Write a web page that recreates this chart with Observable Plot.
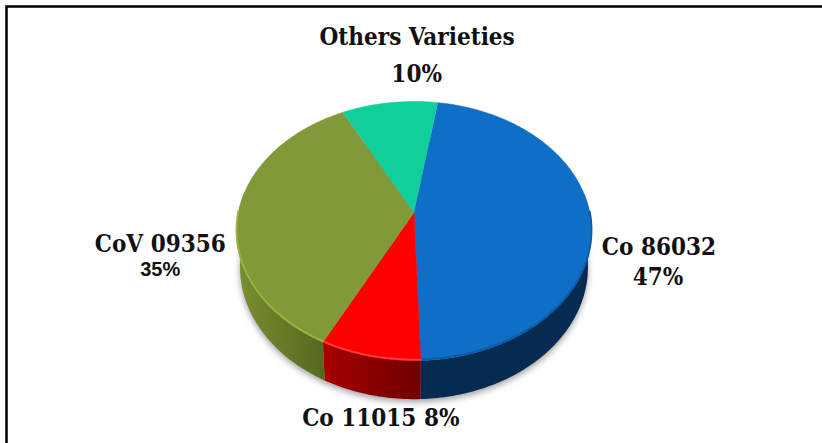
<!DOCTYPE html>
<html>
<head>
<meta charset="utf-8">
<script src="https://cdn.jsdelivr.net/npm/d3@7"></script>
<script src="https://cdn.jsdelivr.net/npm/@observablehq/plot@0.6"></script>
<style>html,body{margin:0;padding:0;background:#fff}svg{display:block}</style>
</head>
<body>
<script>
const categories = ["Co 86032", "Co 11015", "CoV 09356", "Others Varieties"];
const shares = [47, 8, 35, 10];
const shareLabels = ["47%", "8%", "35%", "10%"];
const topColors = ["#0f6fc6", "#ff0000", "#82993a", "#10cf9b"];
const sideFills = ["#052b50", "url(#sideRed)", "url(#sideOlive)", "#0a8a68"];
const rimColors = ["#0a5ba8", "#ff3b3b", "#9db53f", "#10cf9b"];

// Pie layout from the values
const startDeg = 8.9;
const arcs = d3.pie().sort(null).value(d => d)
  .startAngle(startDeg * Math.PI / 180)
  .endAngle((startDeg + 360) * Math.PI / 180)(shares);

// Tilted-disc perspective: x,y are in px-sized plot units
const W = 822, H = 443;
const cx = 413.5, apexY = 212, k = 1 / 7, B = 126.9, A = 175.7;
function topRim(a) {
  const u = Math.sin(a), s = -Math.cos(a), d = 1 - k * s;
  return [cx + A * u / d, apexY + B * s / d];
}
const ellipseCy = 230, depth = 36;
function bottomRim(a) {
  const [x, y] = topRim(a);
  return [cx + (x - cx) * 0.98, ellipseCy + depth + (y - ellipseCy) * 1.02];
}
const arcAngles = (a0, a1) => {
  const n = Math.max(2, Math.ceil((a1 - a0) * 60));
  return d3.range(n + 1).map(i => a0 + (a1 - a0) * i / n);
};

const topRows = arcs.flatMap((d, i) => [
  {x: cx, y: apexY, i},
  ...arcAngles(d.startAngle, d.endAngle).map(a => { const [x, y] = topRim(a); return {x, y, i}; })
]);
const sideRows = arcs.flatMap((d, i) => {
  const a0 = Math.max(d.startAngle, Math.PI * 0.45), a1 = Math.min(d.endAngle, Math.PI * 1.55);
  if (a1 <= a0) return [];
  const as = arcAngles(a0, a1);
  return [
    ...as.map(a => { const [x, y] = topRim(a); return {x, y, i}; }),
    ...as.slice().reverse().map(a => { const [x, y] = bottomRim(a); return {x, y, i}; })
  ];
});
const frontRim = arcs.flatMap((d, i) => {
  const a0 = Math.max(d.startAngle, Math.PI * 0.5), a1 = Math.min(d.endAngle, Math.PI * 1.5);
  if (a1 <= a0) return [];
  return arcAngles(a0, a1).map(a => { const [x, y] = topRim(a); return {x, y, i}; });
});
const shadowRows = arcAngles(0, 2 * Math.PI).map(a => { const [x, y] = bottomRim(a); return {x, y}; });

// Labels sit next to the rim at each slice's middle angle
const mid = arcs.map(d => topRim((d.startAngle + d.endAngle) / 2));
const labelSpec = [
  {i: 0, text: categories[0], dx: 68, dy: 27, size: 24},
  {i: 0, text: shareLabels[0], dx: 67, dy: 57, size: 24},
  {i: 2, text: categories[2], dx: -78, dy: 32, size: 24},
  {i: 2, text: shareLabels[2], dx: -78, dy: 57, size: 20, font: "Liberation Sans"},
  {i: 3, text: categories[3], dx: 27.5, dy: -65, size: 24},
  {i: 3, text: shareLabels[3], dx: 27, dy: -28, size: 24},
  {i: 1, text: categories[1] + " " + shareLabels[1], dx: 11, dy: 62, size: 24}
];

function gradient(id, c0, c1) {
  const ns = "http://www.w3.org/2000/svg";
  const g = document.createElementNS(ns, "linearGradient");
  g.setAttribute("id", id);
  [[0, c0], [1, c1]].forEach(([o, c]) => {
    const st = document.createElementNS(ns, "stop");
    st.setAttribute("offset", o);
    st.setAttribute("stop-color", c);
    g.appendChild(st);
  });
  return g;
}
const defs = () => {
  const d = document.createElementNS("http://www.w3.org/2000/svg", "defs");
  d.appendChild(gradient("sideOlive", "#7a8f30", "#55681f"));
  d.appendChild(gradient("sideRed", "#a80000", "#6e0000"));
  return d;
};

const labelMarks = labelSpec.map(l => Plot.text([l], {
  x: d => mid[d.i][0], y: d => mid[d.i][1], text: "text",
  dx: l.dx, dy: l.dy, fontSize: l.size,
  fontFamily: l.font || "'DejaVu Serif Condensed', 'DejaVu Serif'", fontWeight: "bold", fill: "#111"
}));

const chart = Plot.plot({
  width: W, height: H, margin: 0,
  x: {domain: [0, W], range: [0, W], axis: null},
  y: {domain: [0, H], range: [0, H], axis: null},
  marks: [
    defs,
    Plot.frame({stroke: "#000", strokeWidth: 2.5, insetLeft: 6, insetTop: 6, insetRight: -10, insetBottom: -10}),
    Plot.line(shadowRows, {x: "x", y: "y", fill: "#555", stroke: "none", dy: 3, fillOpacity: 0.55, imageFilter: "blur(3px)"}),
    ...arcs.map((d, i) => Plot.line(sideRows.filter(r => r.i === i), {x: "x", y: "y", fill: sideFills[i], stroke: "none"})),
    ...arcs.map((d, i) => Plot.line(topRows.filter(r => r.i === i), {x: "x", y: "y", fill: topColors[i], stroke: topColors[i], strokeWidth: 0.5})),
    ...arcs.map((d, i) => Plot.line(frontRim.filter(r => r.i === i), {x: "x", y: "y", stroke: rimColors[i], strokeWidth: 1.8, dy: -1})),
    ...labelMarks
  ]
});
document.body.appendChild(chart);
</script>
</body>
</html>
